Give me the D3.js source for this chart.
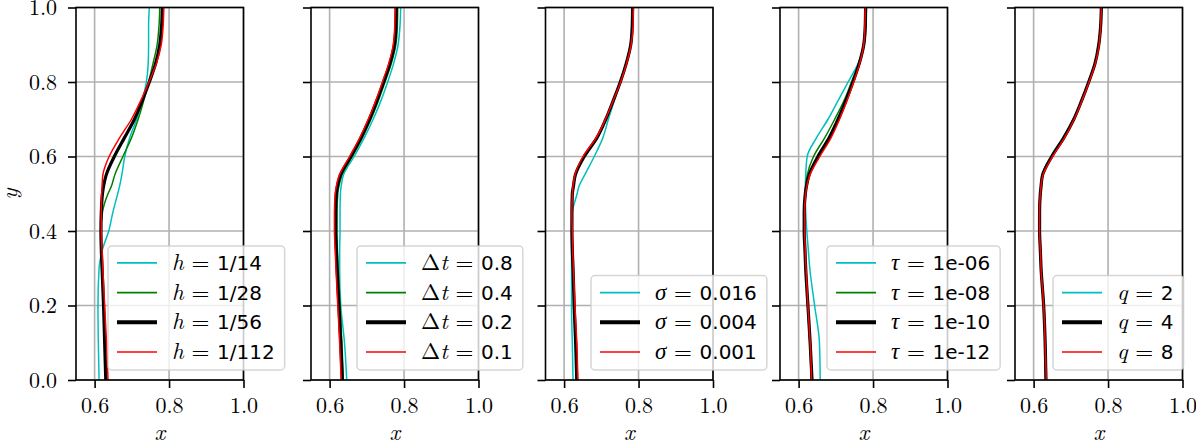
<!DOCTYPE html>
<html><head><meta charset="utf-8">
<script src="https://cdnjs.cloudflare.com/ajax/libs/d3/7.8.5/d3.min.js"></script>
<style>body{margin:0;background:#fff} svg{display:block}</style>
</head><body><svg id="c" width="1196" height="447"></svg>
<script>
// ---------- data ----------
const yLevels = [0, 0.1, 0.2, 0.3, 0.35, 0.4, 0.45, 0.5, 0.52, 0.55, 0.6, 0.65, 0.7, 0.75, 0.8, 0.85, 0.9, 0.95, 1.0];
const xTicks = [0.6, 0.8, 1.0];
const yTicks = [0, 0.2, 0.4, 0.6, 0.8, 1.0];

// panel 1: h
const hLabels = ["1/14", "1/28", "1/56", "1/112"];
const hCyan  = [0.612,0.610,0.609,0.612,0.621,0.638,0.649,0.662,0.667,0.673,0.681,0.694,0.713,0.728,0.739,0.744,0.745,0.745,0.747];
const hGreen = [0.633,0.629,0.625,0.620,0.618,0.617,0.621,0.636,0.645,0.654,0.676,0.699,0.717,0.732,0.745,0.757,0.768,0.773,0.775];
const hBlack = [0.630,0.627,0.624,0.620,0.618,0.617,0.618,0.621,0.624,0.631,0.653,0.680,0.707,0.728,0.747,0.764,0.775,0.780,0.782];
const hRed   = [0.636,0.632,0.627,0.622,0.620,0.618,0.618,0.619,0.620,0.622,0.639,0.667,0.699,0.724,0.746,0.766,0.779,0.784,0.786];

// panel 2: Δt
const dtLabels = ["0.8", "0.4", "0.2", "0.1"];
const dtCyan  = [0.646,0.640,0.630,0.627,0.627,0.628,0.628,0.629,0.631,0.637,0.666,0.693,0.717,0.738,0.756,0.772,0.784,0.789,0.791];
const dtGreen = [0.637,0.633,0.628,0.623,0.621,0.620,0.620,0.622,0.625,0.633,0.661,0.688,0.711,0.731,0.749,0.766,0.778,0.782,0.783];
const dtBlack = [0.634,0.630,0.625,0.620,0.618,0.616,0.616,0.618,0.621,0.629,0.657,0.684,0.707,0.727,0.745,0.762,0.774,0.778,0.779];
const dtRed   = [0.631,0.627,0.622,0.617,0.615,0.613,0.613,0.615,0.618,0.626,0.654,0.681,0.704,0.724,0.742,0.759,0.771,0.775,0.776];

// panel 3: σ
const sigmaLabels = ["0.016", "0.004", "0.001"];
const sigmaCyan  = [0.624,0.622,0.620,0.620,0.620,0.620,0.622,0.635,0.640,0.655,0.681,0.704,0.719,0.735,0.751,0.766,0.778,0.782,0.783];
const sigmaBlack = [0.634,0.631,0.627,0.624,0.622,0.621,0.621,0.622,0.625,0.630,0.654,0.688,0.712,0.732,0.751,0.767,0.779,0.783,0.784];
const sigmaRed   = [0.637,0.634,0.629,0.625,0.623,0.622,0.621,0.622,0.624,0.629,0.651,0.686,0.711,0.732,0.752,0.768,0.780,0.785,0.786];

// panel 4: τ
const tauLabels = ["1e-06", "1e-08", "1e-10", "1e-12"];
const tauCyan  = [0.658,0.656,0.643,0.630,0.626,0.622,0.619,0.618,0.618,0.619,0.623,0.648,0.679,0.706,0.733,0.760,0.775,0.779,0.780];
const tauGreen = [0.634,0.630,0.624,0.619,0.617,0.615,0.615,0.617,0.619,0.623,0.640,0.670,0.697,0.722,0.742,0.761,0.776,0.781,0.782];
const tauBlack = [0.636,0.631,0.625,0.619,0.617,0.615,0.615,0.618,0.621,0.628,0.652,0.682,0.706,0.727,0.746,0.763,0.775,0.779,0.780];
const tauRed   = [0.635,0.631,0.625,0.620,0.618,0.616,0.616,0.619,0.622,0.630,0.657,0.687,0.710,0.730,0.748,0.764,0.775,0.778,0.779];

// panel 5: q
const qLabels = ["2", "4", "8"];
const qCyan  = [0.635,0.632,0.628,0.620,0.618,0.616,0.616,0.618,0.620,0.623,0.646,0.678,0.706,0.728,0.747,0.765,0.776,0.781,0.783];
const qBlack = [0.633,0.631,0.627,0.620,0.618,0.616,0.616,0.618,0.620,0.624,0.649,0.681,0.708,0.729,0.748,0.765,0.775,0.780,0.782];
const qRed   = [0.634,0.631,0.627,0.620,0.618,0.616,0.616,0.618,0.620,0.625,0.651,0.683,0.709,0.730,0.749,0.766,0.776,0.780,0.782];

// ---------- layout / style ----------
const CYAN = "#00bfbf", GREEN = "#008000", BLACK = "#000000", RED = "#ff0000";
const SERIF = '"Latin Modern Roman", "CMU Serif", "Liberation Serif", serif';
const SANS = '"DejaVu Sans", sans-serif';

const panels = [
  {sym: [["h", true]], labels: hLabels, series: [hCyan, hGreen, hBlack, hRed], colors: [CYAN, GREEN, BLACK, RED], legendLeft: 108},
  {sym: [["Δ", false], ["t", true]], labels: dtLabels, series: [dtCyan, dtGreen, dtBlack, dtRed], colors: [CYAN, GREEN, BLACK, RED], legendLeft: 357},
  {sym: [["σ", true]], labels: sigmaLabels, series: [sigmaCyan, sigmaBlack, sigmaRed], colors: [CYAN, BLACK, RED], legendLeft: 591},
  {sym: [["τ", true]], labels: tauLabels, series: [tauCyan, tauGreen, tauBlack, tauRed], colors: [CYAN, GREEN, BLACK, RED], legendLeft: 827},
  {sym: [["q", true]], labels: qLabels, series: [qCyan, qBlack, qRed], colors: [CYAN, BLACK, RED], legendLeft: 1053}
];
const panelLefts = [76, 311, 545.5, 780, 1015];
const panelW = 167.5, plotTop = 7.5, plotBottom = 380;

const svg = d3.select("#c");
const y = d3.scaleLinear().domain([0, 1]).range([plotBottom, plotTop]);

panels.forEach((p, i) => {
  const L = panelLefts[i];
  const x = d3.scaleLinear().domain([0.55, 1.0]).range([L, L + panelW]);
  const g = svg.append("g");

  // grid
  g.selectAll(".gx").data(xTicks).join("line")
    .attr("x1", d => x(d)).attr("x2", d => x(d)).attr("y1", plotTop).attr("y2", plotBottom)
    .attr("stroke", "#b0b0b0").attr("stroke-width", 1.6);
  g.selectAll(".gy").data(yTicks).join("line")
    .attr("x1", L).attr("x2", L + panelW).attr("y1", d => y(d)).attr("y2", d => y(d))
    .attr("stroke", "#b0b0b0").attr("stroke-width", 1.6);

  // clip
  const cid = "clip" + i;
  svg.append("clipPath").attr("id", cid).append("rect")
    .attr("x", L).attr("y", plotTop).attr("width", panelW).attr("height", plotBottom - plotTop);

  const line = d3.line().x(d => x(d[0])).y(d => y(d[1])).curve(d3.curveMonotoneY);
  const lg = g.append("g").attr("clip-path", `url(#${cid})`);
  p.series.forEach((s, k) => {
    const pts = s.map((v, j) => [v, yLevels[j]]);
    lg.append("path").attr("d", line(pts)).attr("fill", "none")
      .attr("stroke", p.colors[k]).attr("stroke-width", p.colors[k] === BLACK ? 3.2 : 1.5)
      .attr("stroke-linejoin", "round");
  });

  // axes
  const ax = d3.axisBottom(x).tickValues(xTicks).tickFormat(d3.format(".1f")).tickSize(8).tickPadding(9);
  const axG = g.append("g").attr("transform", `translate(0,${plotBottom})`).call(ax);
  const ay = d3.axisLeft(y).tickValues(yTicks).tickFormat(i === 0 ? d3.format(".1f") : () => "").tickSize(8).tickPadding(11);
  const ayG = g.append("g").attr("transform", `translate(${L},0)`).call(ay);
  [axG, ayG].forEach(a => {
    a.attr("font-family", null).attr("font-size", null);
    a.select(".domain").remove();
    a.selectAll(".tick line").attr("stroke", "#000").attr("stroke-width", 1.6);
    a.selectAll(".tick text").style("font-family", SERIF).style("font-size", "22px").attr("fill", "#000");
  });

  // spines
  g.append("rect").attr("x", L).attr("y", plotTop).attr("width", panelW).attr("height", plotBottom - plotTop)
    .attr("fill", "none").attr("stroke", "#000").attr("stroke-width", 1.6);

  // x label
  g.append("text").attr("x", L + panelW / 2).attr("y", 440).attr("text-anchor", "middle")
    .style("font-family", SERIF).style("font-style", "italic").style("font-size", "23px").text("x");

  // legend
  const n = p.labels.length, rowH = 29.7, padTop = 17, padBot = 18;
  const boxBottom = 370;
  const boxTop = boxBottom - (padTop + padBot + (n - 1) * rowH);
  const leg = g.append("g");
  const box = leg.append("rect").attr("x", p.legendLeft).attr("y", boxTop).attr("height", boxBottom - boxTop)
    .attr("rx", 4).attr("fill", "rgba(255,255,255,0.8)").attr("stroke", "rgba(204,204,204,0.8)").attr("stroke-width", 1.5);
  let maxW = 0;
  const textX = p.legendLeft + 64;
  p.labels.forEach((lab, k) => {
    const cy = boxTop + padTop + k * rowH;
    leg.append("line").attr("x1", p.legendLeft + 9).attr("x2", p.legendLeft + 49).attr("y1", cy).attr("y2", cy)
      .attr("stroke", p.colors[k]).attr("stroke-width", p.colors[k] === BLACK ? 4 : 1.6);
    const t = leg.append("text").attr("x", textX).attr("y", cy + 7);
    p.sym.forEach(([s, it]) => t.append("tspan").style("font-family", SERIF)
      .style("font-style", it ? "italic" : "normal").style("font-size", "23px").text(s));
    t.append("tspan").style("font-family", SERIF).style("font-size", "23px").text(" = ");
    t.append("tspan").style("font-family", SANS).style("font-size", "20px").text(lab);
    maxW = Math.max(maxW, t.node().getComputedTextLength());
  });
  box.attr("width", textX + maxW + 10 - p.legendLeft);
});

// y label
svg.append("text").attr("transform", `translate(17,194) rotate(-90)`).attr("text-anchor", "middle")
  .style("font-family", SERIF).style("font-style", "italic").style("font-size", "23px").text("y");
</script>
</body></html>
